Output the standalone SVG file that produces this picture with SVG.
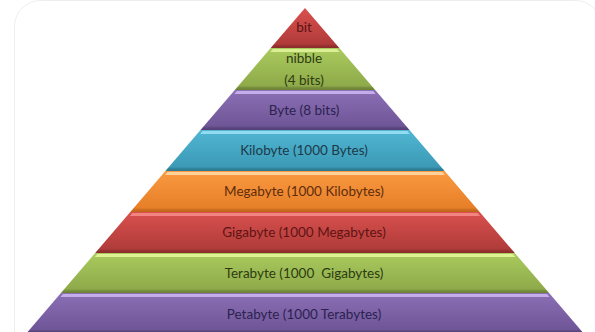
<svg xmlns="http://www.w3.org/2000/svg" width="595" height="332" viewBox="0 0 595 332">
<style>
.lbl{font-family:Lato,"Open Sans","Liberation Sans",sans-serif;font-size:13.5px;text-anchor:middle}
.hl{stroke:none}
</style>
<defs>
<linearGradient id="gRed" x1="0" y1="0" x2="0" y2="1">
<stop offset="0" stop-color="#d9504e"/><stop offset="0.9" stop-color="#b03c3a"/><stop offset="0.95" stop-color="#92302e"/><stop offset="1" stop-color="#8a2c2a"/>
</linearGradient>
<linearGradient id="gGreen" x1="0" y1="0" x2="0" y2="1">
<stop offset="0" stop-color="#aacb5e"/><stop offset="0.9" stop-color="#8eaa4a"/><stop offset="0.95" stop-color="#738a3a"/><stop offset="1" stop-color="#6c8236"/>
</linearGradient>
<linearGradient id="gPurple" x1="0" y1="0" x2="0" y2="1">
<stop offset="0" stop-color="#8c6fb6"/><stop offset="0.9" stop-color="#6f5697"/><stop offset="0.95" stop-color="#5a457c"/><stop offset="1" stop-color="#544076"/>
</linearGradient>
<linearGradient id="gBlue" x1="0" y1="0" x2="0" y2="1">
<stop offset="0" stop-color="#50b6d3"/><stop offset="0.9" stop-color="#3c9ab6"/><stop offset="0.95" stop-color="#2f7f96"/><stop offset="1" stop-color="#2b7890"/>
</linearGradient>
<linearGradient id="gOrange" x1="0" y1="0" x2="0" y2="1">
<stop offset="0" stop-color="#fa9a42"/><stop offset="0.9" stop-color="#e67f28"/><stop offset="0.95" stop-color="#c96c1e"/><stop offset="1" stop-color="#c0661c"/>
</linearGradient>
</defs>
<rect x="14.5" y="0.5" width="587" height="360" rx="26" fill="#ffffff" stroke="#eeeeee"/>

<g id="tier-bit">
<polygon points="305,8 339.3,48 270.7,48" fill="url(#gRed)"/>
<text class="lbl" x="304" y="32" fill="#5a1414">bit</text>
</g>
<g id="tier-nibble">
<polygon points="270.7,48 339.3,48 375.2,90 234.8,90" fill="url(#gGreen)"/>
<polygon class="hl" points="272.9,49 337.1,49 339.7,52 270.3,52" fill="#d9ef92"/>
<text class="lbl" x="304" y="63" fill="#2e3b12">nibble</text>
<text class="lbl" x="304" y="85" fill="#2e3b12">(4 bits)</text>
</g>
<g id="tier-byte">
<polygon points="234.8,90 375.2,90 409.5,130 200.5,130" fill="url(#gPurple)"/>
<polygon class="hl" points="236.9,91 373.1,91 375.7,94 234.3,94" fill="#c3aeea"/>
<text class="lbl" x="304" y="114.5" fill="#2b2250">Byte (8 bits)</text>
</g>
<g id="tier-kilobyte">
<polygon points="200.5,130 409.5,130 444.6,171 165.4,171" fill="url(#gBlue)"/>
<polygon class="hl" points="202.7,131 407.3,131 409.9,134 200.1,134" fill="#93dcf0"/>
<text class="lbl" x="304" y="154.5" fill="#1d3948">Kilobyte (1000 Bytes)</text>
</g>
<g id="tier-megabyte">
<polygon points="165.4,171 444.6,171 479.7,212 130.3,212" fill="url(#gOrange)"/>
<polygon class="hl" points="167.5,172 442.5,172 445,175 165,175" fill="#fdd199"/>
<text class="lbl" x="304" y="196" fill="#5e2c0c">Megabyte (1000 Kilobytes)</text>
</g>
<g id="tier-gigabyte">
<polygon points="130.3,212 479.7,212 514.8,253 95.2,253" fill="url(#gRed)"/>
<polygon class="hl" points="132.4,213 477.6,213 480.2,216 129.8,216" fill="#f28482"/>
<text class="lbl" x="304" y="237" fill="#5e1414">Gigabyte (1000 Megabytes)</text>
</g>
<g id="tier-terabyte">
<polygon points="95.2,253 514.8,253 549.1,293 60.9,293" fill="url(#gGreen)"/>
<polygon class="hl" points="97.3,254 512.7,254 515.3,257 94.7,257" fill="#dff294"/>
<text class="lbl" x="304" y="278" fill="#2d3b12" xml:space="preserve">Terabyte (1000  Gigabytes)</text>
</g>
<g id="tier-petabyte">
<polygon points="60.9,293 549.1,293 583.7,333.5 26.3,333.5" fill="url(#gPurple)"/>
<polygon class="hl" points="63,294 547,294 549.5,297 60.5,297" fill="#c3aeea"/>
<text class="lbl" x="304" y="318.5" fill="#2b2250">Petabyte (1000 Terabytes)</text>
</g>
<g id="connectors"/>
</svg>
